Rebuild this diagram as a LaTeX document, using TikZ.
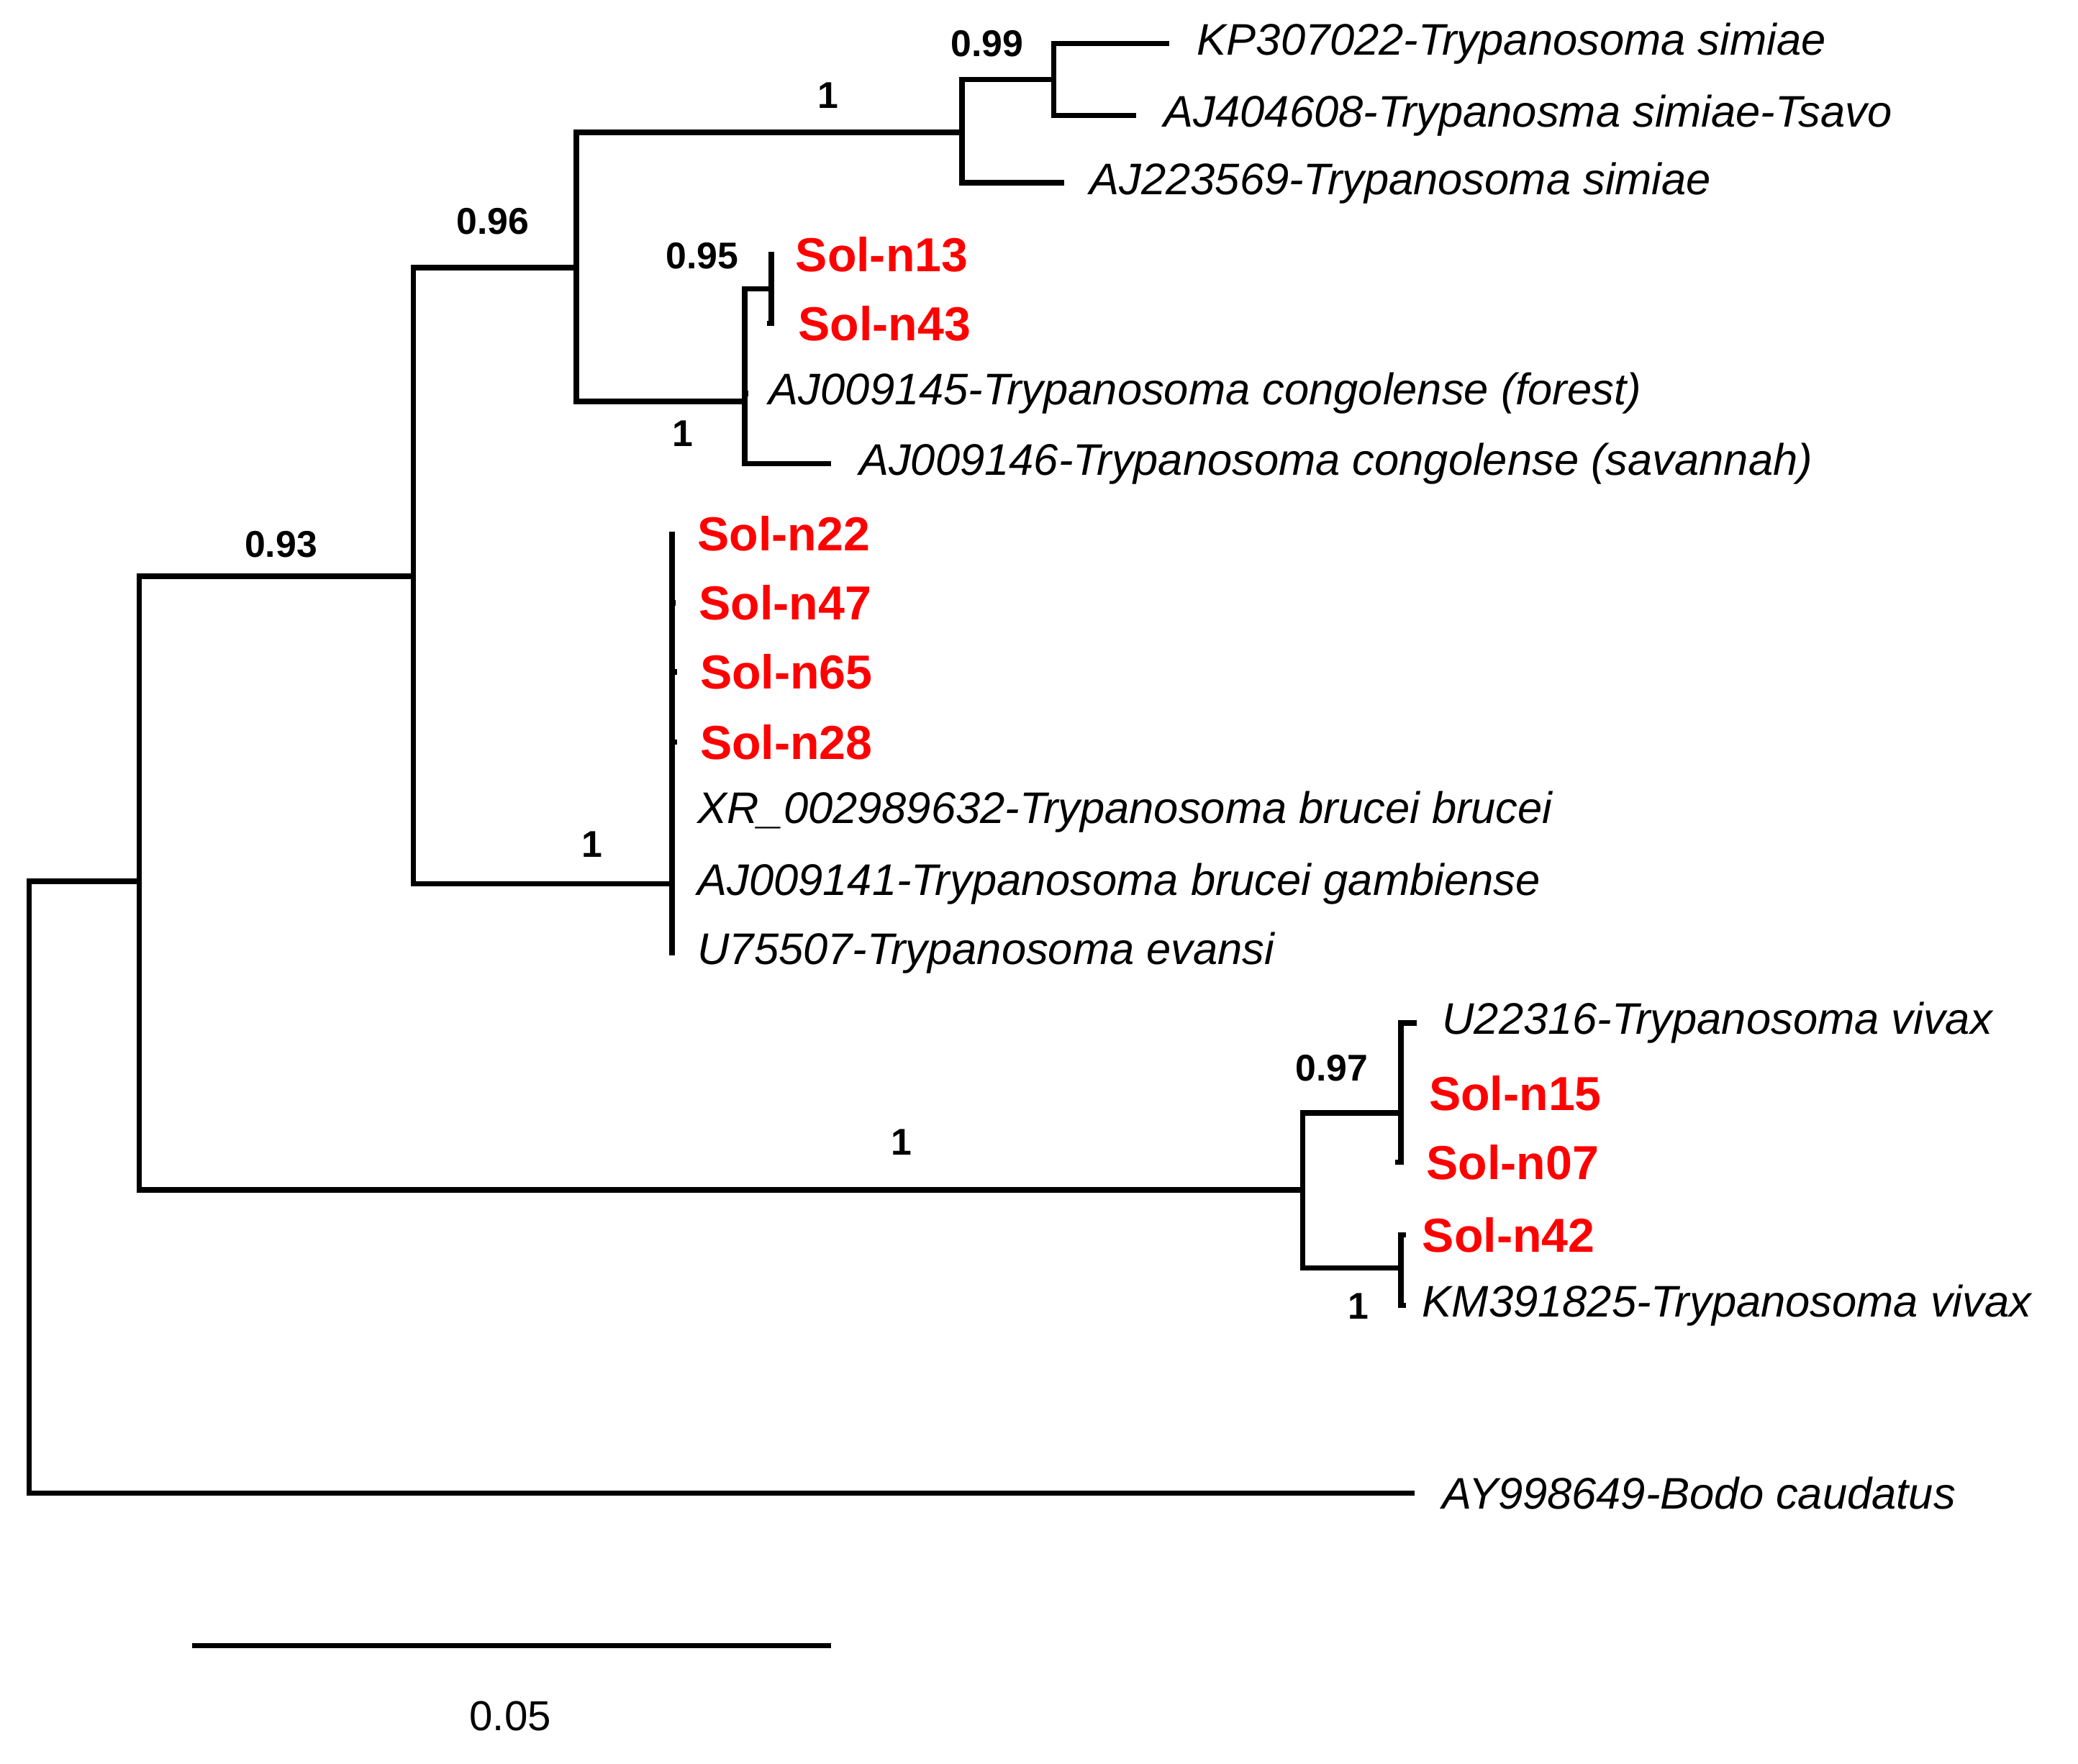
\documentclass[tikz,border=0pt]{standalone}
\usepackage{fontspec}
\setmainfont{Liberation Sans}
\usetikzlibrary{positioning}
\definecolor{solred}{RGB}{255,0,0}
\begin{document}
\begin{tikzpicture}[
            x=0.02cm, y=-0.02cm,
            branch/.style={line width=2.3pt, line cap=rect},
            leaf/.style={anchor=west, inner sep=0pt, font=\fontsize{19}{22}\selectfont\itshape},
            sol/.style={anchor=west, inner sep=0pt, text=solred, font=\fontsize{20.5}{24}\selectfont\bfseries},
            boot/.style={font=\fontsize{16}{19}\selectfont\bfseries, inner sep=1pt}
        ]
            \useasboundingbox (0,0) rectangle (1568,1331);

            % Internal nodes
            \coordinate (root) at (22,665);
            \coordinate (nA) at (105,665);
            \coordinate (nB) at (312,435);
            \coordinate (nC) at (435,202);
            \coordinate (nD) at (726,100);
            \coordinate (nE) at (795,60);
            \coordinate (nF) at (562,303);
            \coordinate (nG) at (582,218);
            \coordinate (nBr) at (507,667);
            \coordinate (nH) at (983,898);
            \coordinate (nI) at (1057,840);
            \coordinate (nJ) at (1057,957);

            % Leaves
            \node[leaf] (kp307) at (903,33) {KP307022-Trypanosoma simiae};
            \node[leaf] (aj404) at (878,87) {AJ404608-Trypanosma simiae-Tsavo};
            \node[leaf] (aj223) at (822,138) {AJ223569-Trypanosoma simiae};
            \node[sol] (n13) at (600,192) {Sol-n13};
            \node[sol] (n43) at (602,244) {Sol-n43};
            \node[leaf] (aj145) at (580,297) {AJ009145-Trypanosoma congolense (forest)};
            \node[leaf] (aj146) at (648,350) {AJ009146-Trypanosoma congolense (savannah)};
            \node[sol] (n22) at (526,403) {Sol-n22};
            \node[sol] (n47) at (527,455) {Sol-n47};
            \node[sol] (n65) at (528,507) {Sol-n65};
            \node[sol] (n28) at (528,560) {Sol-n28};
            \node[leaf] (xr) at (526,613) {XR\_002989632-Trypanosoma brucei brucei};
            \node[leaf] (aj141) at (526,667) {AJ009141-Trypanosoma brucei gambiense};
            \node[leaf] (u755) at (526,719) {U75507-Trypanosoma evansi};
            \node[leaf] (u223) at (1088,772) {U22316-Trypanosoma vivax};
            \node[sol] (n15) at (1078,825) {Sol-n15};
            \node[sol] (n07) at (1076,877) {Sol-n07};
            \node[sol] (n42) at (1073,932) {Sol-n42};
            \node[leaf] (km391) at (1073,985) {KM391825-Trypanosoma vivax};
            \node[leaf] (bodo) at (1088,1127) {AY998649-Bodo caudatus};

            % Branches
            \draw[branch] (root) |- (nA);
            \draw[branch] (root) |- ([xshift=-13]bodo.west);
            \draw[branch] (nA) |- (nB);
            \draw[branch] (nA) |- (nH);
            \draw[branch] (nB) |- (nC);
            \draw[branch] (nB) |- (nBr);
            \draw[branch] (nC) |- (nD);
            \draw[branch] (nC) |- (nF);
            \draw[branch] (nD) |- (nE);
            \draw[branch] (nD) |- ([xshift=-12]aj223.west);
            \draw[branch] (nE) |- ([xshift=-13]kp307.west);
            \draw[branch] (nE) |- ([xshift=-13]aj404.west);
            \draw[branch] (nF) |- (nG);
            \draw[branch] (nF) |- ([xshift=-10]aj145.west);
            \draw[branch] (nF) |- ([xshift=-13]aj146.west);
            \draw[branch] (nG) |- ([xshift=-10]n13.west);
            \draw[branch] (nG) |- ([xshift=-12]n43.west);
            \foreach \lf in {n22,n47,n65,n28,xr,aj141,u755}
                \draw[branch] (nBr) |- ([xshift=-11]\lf.west);
            \draw[branch] (nH) |- (nI);
            \draw[branch] (nH) |- (nJ);
            \draw[branch] (nI) |- ([xshift=-12]u223.west);
            \draw[branch] (nI) |- ([xshift=-12]n15.west);
            \draw[branch] (nI) |- ([xshift=-12]n07.west);
            \draw[branch] (nJ) |- ([xshift=-8]n42.west);
            \draw[branch] (nJ) |- ([xshift=-8]km391.west);

            % Support values
            \node[boot] (bA) at (212,411) {0.93};
            \node[boot] (bB) at (372,167) {0.96};
            \node[boot] (bC) at (625,72) {1};
            \node[boot] (bD) at (745,33) {0.99};
            \node[boot] (bF) at (515,327) {1};
            \node[boot] (bG) at (530,193) {0.95};
            \node[boot] (bBr) at (447,637) {1};
            \node[boot] (bH) at (680,862) {1};
            \node[boot] (bI) at (1005,806) {0.97};
            \node[boot] (bJ) at (1025,986) {1};

            % Scale bar
            \coordinate (sL) at (145,1242);
            \coordinate (sR) at (627,1242);
            \draw[branch, line cap=butt] (sL) -- (sR);
            \node[font=\fontsize{18}{21}\selectfont] (scl) at (385,1295) {0.05};
        \end{tikzpicture}
\end{document}
